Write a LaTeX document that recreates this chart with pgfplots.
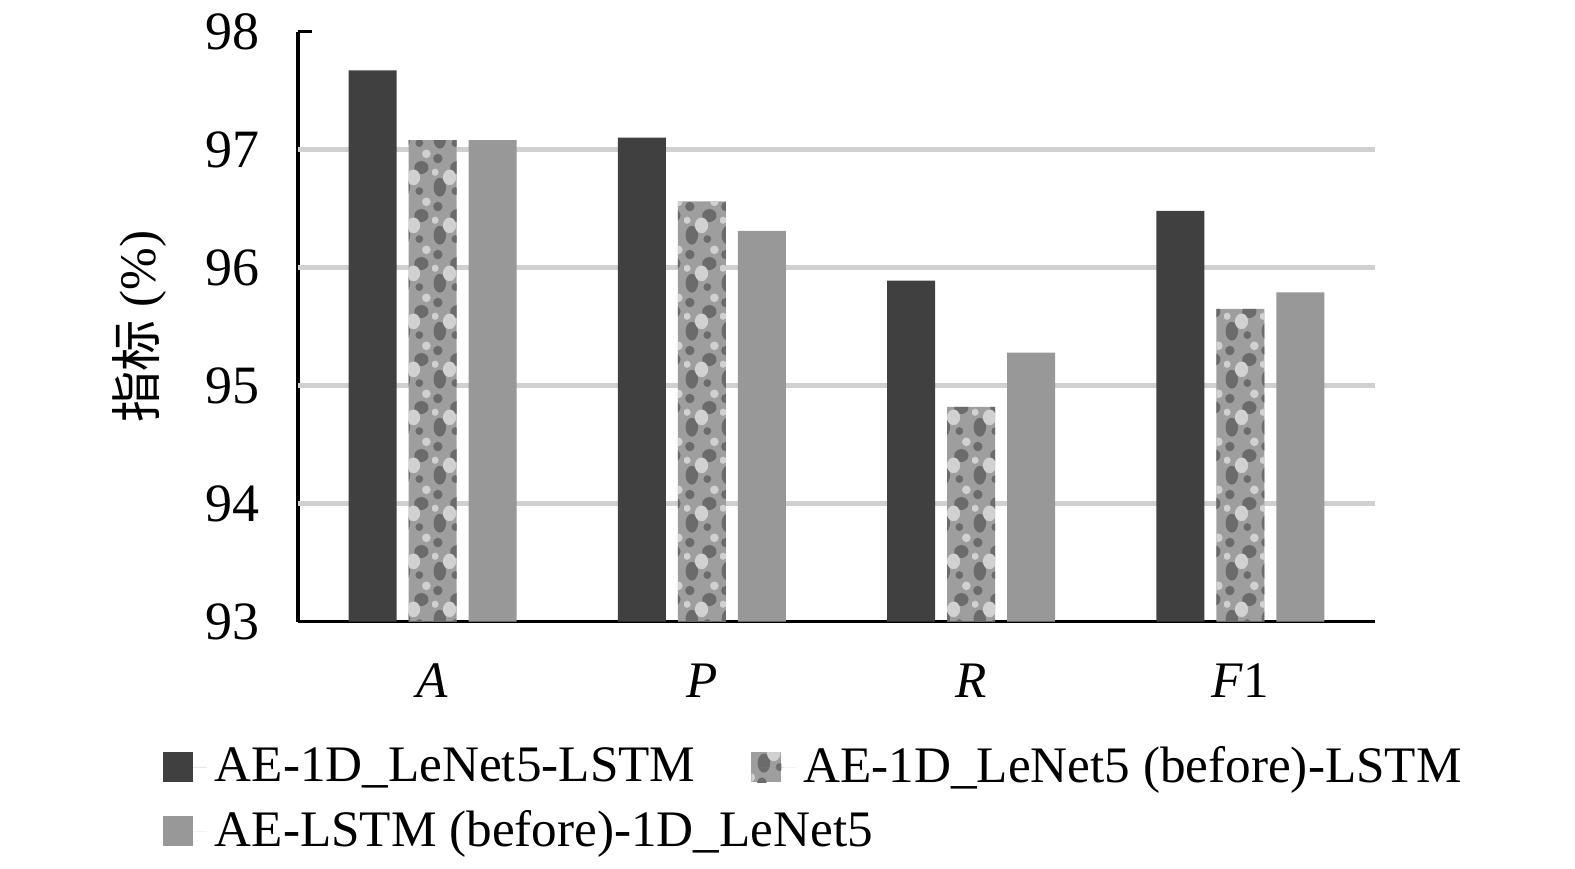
\documentclass[border=0pt]{standalone}
\usepackage{pgfplots}
\pgfplotsset{compat=1.18}
\usepackage{fontspec}
\setmainfont{Liberation Serif}
\newfontfamily\cjk{Noto Sans CJK SC}
\usetikzlibrary{patterns}
\definecolor{cdark}{HTML}{404040}
\definecolor{cgray}{HTML}{989898}
\definecolor{cgrid}{HTML}{D0D0D0}
\pgfdeclarepatternformonly{mottleA}{\pgfqpoint{0pt}{0pt}}{\pgfqpoint{9pt}{12pt}}{\pgfqpoint{9pt}{12pt}}{%
  \pgfpathellipse{\pgfqpoint{2pt}{2.5pt}}{\pgfqpoint{1.6pt}{0pt}}{\pgfqpoint{0pt}{2.4pt}}%
  \pgfpathellipse{\pgfqpoint{6.5pt}{7.5pt}}{\pgfqpoint{1.8pt}{0.4pt}}{\pgfqpoint{-0.4pt}{1.6pt}}%
  \pgfpathcircle{\pgfqpoint{6pt}{1.5pt}}{1pt}%
  \pgfpathcircle{\pgfqpoint{1.5pt}{9.8pt}}{1.2pt}%
  \pgfusepath{fill}}
\pgfdeclarepatternformonly{mottleB}{\pgfqpoint{0pt}{0pt}}{\pgfqpoint{9pt}{12pt}}{\pgfqpoint{9pt}{12pt}}{%
  \pgfpathellipse{\pgfqpoint{4.5pt}{5pt}}{\pgfqpoint{1.7pt}{0pt}}{\pgfqpoint{0pt}{2pt}}%
  \pgfpathcircle{\pgfqpoint{7.8pt}{11pt}}{1.1pt}%
  \pgfpathcircle{\pgfqpoint{0.8pt}{6.3pt}}{0.9pt}%
  \pgfusepath{fill}}
\newcommand\ff{\fontsize{12.8}{15}\selectfont}
\begin{document}
\begin{tikzpicture}
\begin{axis}[
  scale only axis,
  width=269.25pt, height=147.5pt,
  xmin=-0.5, xmax=3.5,
  ymin=93, ymax=98,
  ybar=3pt, bar width=12pt,
  axis x line*=bottom, axis y line*=left,
  axis line style={black, line width=0.8pt},
  xtick={0,1,2,3},
  xticklabels={\textit{A},\textit{P},\textit{R},\textit{F}1},
  x tick style={draw=none},
  ytick={93,94,95,96,97,98},
  y tick style={black, line width=0.8pt},
  tick align=inside, major tick length=3.5pt,
  extra y ticks={94,95,96,97},
  extra y tick labels={},
  extra y tick style={grid=major, major tick length=0pt},
  grid style={cgrid, line width=1.3pt},
  /pgf/number format/assume math mode=true,
  tick label style={font=\ff},
  xticklabel style={yshift=-7pt},
  yticklabel style={xshift=-6pt, font=\fontsize{13.5}{15}\selectfont},
  ylabel={{\cjk 指标} (\%)},
  ylabel style={font=\ff, yshift=3pt},
  legend style={draw=none, font=\ff, at={(rel axis cs:0,0)}, anchor=north west,
    xshift=-37pt, yshift=-27pt, legend columns=2,
    /tikz/every even column/.append style={column sep=12pt},
    row sep=1.5pt, legend cell align=left},
  legend image code/.code={\draw[#1, draw=none] (0pt,-3.75pt) rectangle (7.5pt,3.75pt);
    \path (0pt,0pt) -- (11pt,0pt);},
]
\addplot[fill=cdark, draw=none] coordinates {(0,97.67) (1,97.10) (2,95.89) (3,96.48)};
\addplot[fill=black!38, draw=none,
  postaction={pattern=mottleA, pattern color=black!58},
  postaction={pattern=mottleB, pattern color=black!18}] coordinates {(0,97.08) (1,96.56) (2,94.82) (3,95.65)};
\addplot[fill=cgray, draw=none] coordinates {(0,97.08) (1,96.31) (2,95.28) (3,95.79)};
\legend{AE-1D\_LeNet5-LSTM, AE-1D\_LeNet5 (before)-LSTM, \makebox[0pt][l]{AE-LSTM (before)-1D\_LeNet5}}
\coordinate (bbl) at (rel axis cs:0,0);
\end{axis}
\path (bbl) ++(-74.5pt,-61.5pt) rectangle ++(393.75pt,216pt);
\end{tikzpicture}
\end{document}
